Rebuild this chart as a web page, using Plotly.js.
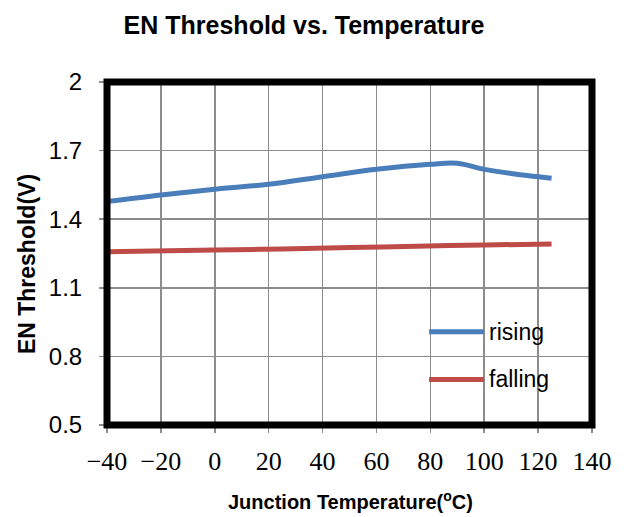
<!DOCTYPE html>
<html>
<head>
<meta charset="utf-8">
<script src="https://cdn.plot.ly/plotly-3.0.1.min.js"></script>
<style>html,body{margin:0;padding:0;background:#fff;}#chart{width:626px;height:517px;}</style>
</head>
<body>
<div id="chart"></div>
<script>
// Data
const seriesNames = ["rising", "falling"];
const risingTemp = [-40, -20, 0, 20, 40, 60, 80, 90, 100, 110, 125];
const risingV    = [1.477, 1.506, 1.531, 1.553, 1.586, 1.618, 1.640, 1.645, 1.618, 1.600, 1.579];
const fallingTemp = [-40, 0, 25, 50, 75, 100, 125];
const fallingV    = [1.258, 1.265, 1.270, 1.276, 1.282, 1.287, 1.292];
const xTicks = [-40, -20, 0, 20, 40, 60, 80, 100, 120, 140];
const yTicks = [0.5, 0.8, 1.1, 1.4, 1.7, 2];
const seriesColors = ["#4a7ebb", "#be4b48"];

const traces = [
  {x: risingTemp, y: risingV, name: seriesNames[0], mode: "lines",
   line: {color: seriesColors[0], width: 5, shape: "spline", smoothing: 1}},
  {x: fallingTemp, y: fallingV, name: seriesNames[1], mode: "lines",
   line: {color: seriesColors[1], width: 5, shape: "spline", smoothing: 1}}
];

const sans = "Liberation Sans, Arial, sans-serif";
const serif = "Liberation Serif, Times New Roman, serif";

// legend drawn as shapes/annotations (positions in paper coords)
const legendRows = [0.272, 0.133];
const shapes = [
  {type: "rect", xref: "paper", yref: "paper", x0: 0, x1: 1, y0: 0, y1: 1,
   line: {color: "#000", width: 7}, layer: "above"}
];
const annotations = [
  {text: "EN Threshold(V)", xref: "paper", yref: "paper", x: -0.165, y: 0.469,
   textangle: -90, showarrow: false, xanchor: "center", yanchor: "middle",
   font: {family: sans, size: 23, color: "#000", weight: "bold"}},
  {text: "Junction Temperature(<sup>o</sup>C)", xref: "paper", yref: "paper", x: 0.503, y: -0.219,
   showarrow: false, xanchor: "center", yanchor: "middle",
   font: {family: sans, size: 20, color: "#000", weight: "bold"}}
];
seriesNames.forEach((nm, i) => {
  shapes.push({type: "line", xref: "paper", yref: "paper", x0: 0.664, x1: 0.777,
    y0: legendRows[i], y1: legendRows[i], line: {color: seriesColors[i], width: 5}});
  annotations.push({text: nm, xref: "paper", yref: "paper", x: 0.784, y: legendRows[i],
    showarrow: false, xanchor: "left", yanchor: "middle",
    font: {family: sans, size: 23, color: "#000"}});
});

const layout = {
  width: 626, height: 517,
  margin: {l: 107, r: 34, t: 82, b: 92, pad: 0},
  paper_bgcolor: "#fff", plot_bgcolor: "#fff",
  showlegend: false,
  title: {text: "EN Threshold vs. Temperature", xref: "container", yref: "container",
    x: 0.4856, xanchor: "center", y: 0.952, yanchor: "middle",
    font: {family: sans, size: 25, color: "#000", weight: "bold"}},
  xaxis: {range: [-40, 140], tickvals: xTicks, ticks: "outside", ticklen: 7, tickwidth: 1.5,
    tickcolor: "#8c8c8c", showgrid: true, gridcolor: "#8c8c8c", gridwidth: 1.5,
    zeroline: false, showline: false, ticklabelstandoff: 6,
    tickfont: {family: serif, size: 26, color: "#000"}},
  yaxis: {range: [0.5, 2], tickvals: yTicks, ticktext: yTicks.map(String), ticks: "outside", ticklen: 7, tickwidth: 1.5,
    tickcolor: "#8c8c8c", showgrid: true, gridcolor: "#8c8c8c", gridwidth: 1.5,
    zeroline: false, showline: false, ticklabelstandoff: 12,
    tickfont: {family: sans, size: 24, color: "#000"}},
  shapes: shapes,
  annotations: annotations
};

Plotly.newPlot("chart", traces, layout, {staticPlot: true, displayModeBar: false});
</script>
</body>
</html>
